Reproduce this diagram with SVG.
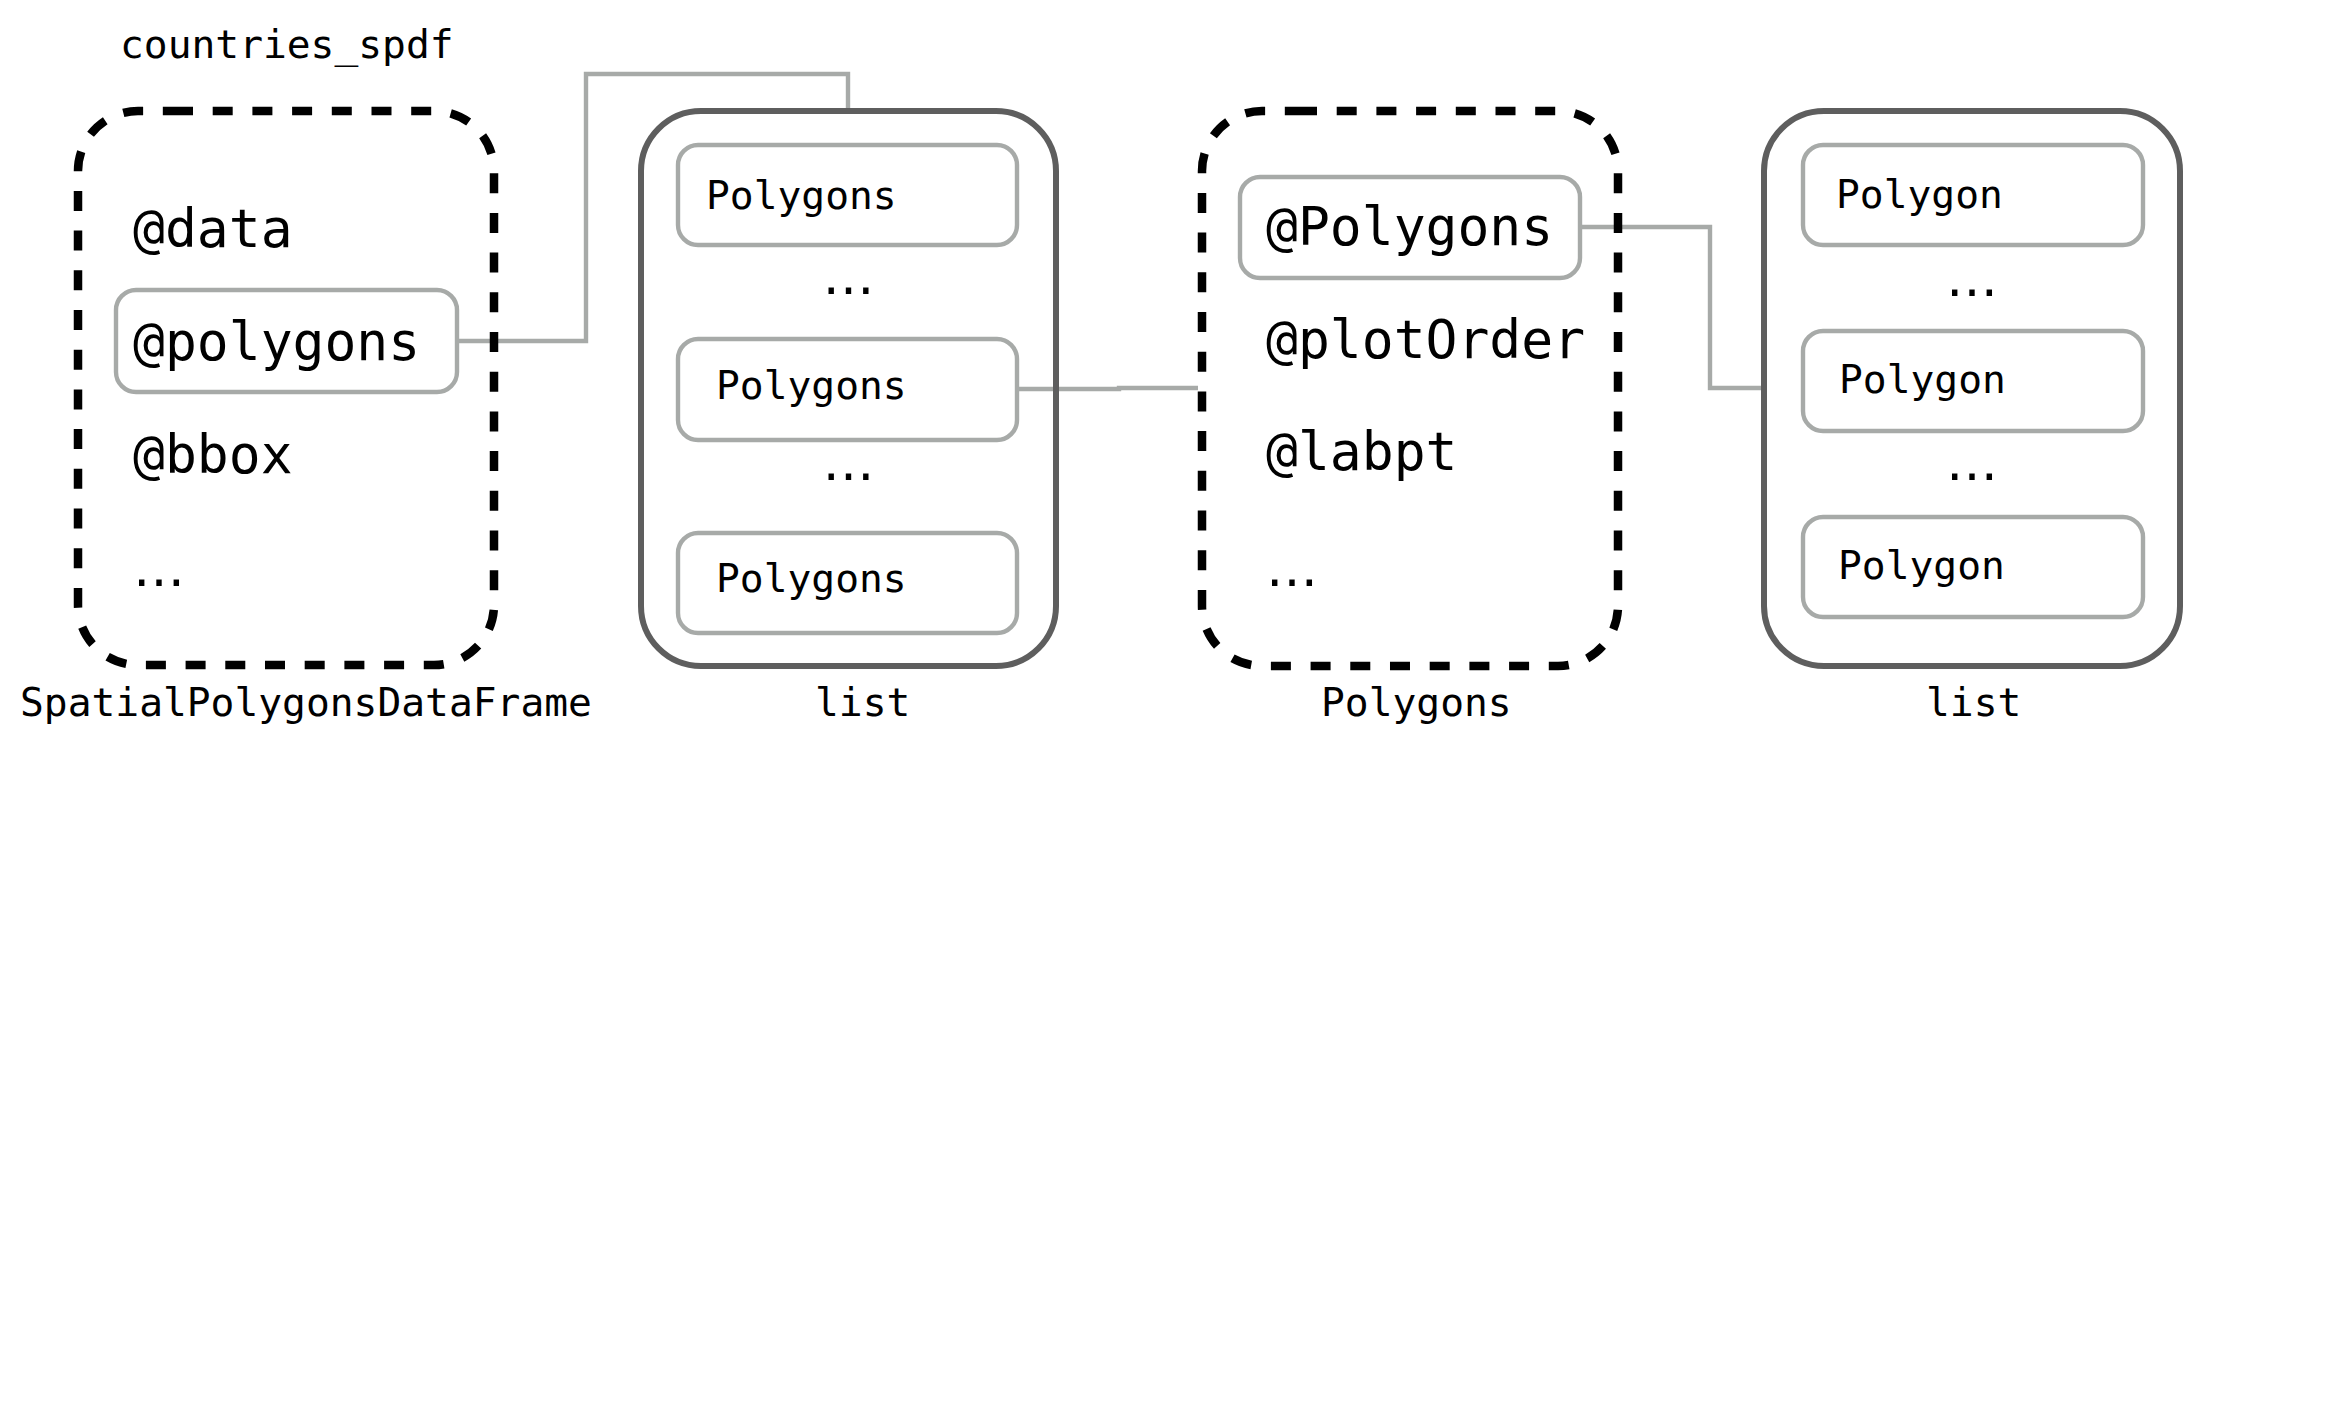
<svg xmlns="http://www.w3.org/2000/svg" width="2344" height="1402" viewBox="0 0 2344 1402">
<style>
.mono{font-family:"DejaVu Sans Mono","Liberation Mono",monospace;fill:#000}
.big{font-size:53px}
.small{font-size:39.6px}
.dots{font-family:"DejaVu Sans","Liberation Sans",sans-serif;font-size:52px;fill:#000}
.dash{fill:none;stroke:#000;stroke-width:8.5;stroke-dasharray:20 19.7}
.list{fill:none;stroke:#5e5e5e;stroke-width:6}
.item{fill:#fff;stroke:#a7aaa8;stroke-width:4.4}
.conn{fill:none;stroke:#a7aaa8;stroke-width:4.4}
</style>
<rect width="2344" height="1402" fill="#fff"/>
<g id="connectors">
<path class="conn" d="M457 341 H586 V74 H848 V108"/>
<path class="conn" d="M1017 389 H1119 V388 H1198"/>
<path class="conn" d="M1580 227 H1710 V388 H1762"/>
</g>
<g id="spdf">
<text class="mono small" x="120" y="58">countries_spdf</text>
<path class="dash" d="M173 111 H434 A60 60 0 0 1 494 171 V605 A60 60 0 0 1 434 665 H138 A60 60 0 0 1 78 605 V171 A60 60 0 0 1 138 111 Z"/>
<text class="mono big" x="133" y="247">@data</text>
<rect class="item" x="116" y="290" width="341" height="102" rx="20"/>
<text class="mono big" x="133" y="360">@polygons</text>
<text class="mono big" x="133" y="473">@bbox</text>
<text class="dots" x="133" y="586">…</text>
<text class="mono small" x="20" y="716">SpatialPolygonsDataFrame</text>
</g>
<g id="list1">
<rect class="list" x="641" y="111" width="415" height="555" rx="60"/>
<rect class="item" x="678" y="145" width="339" height="100" rx="20"/>
<text class="mono small" x="706" y="209">Polygons</text>
<text class="dots" x="848.5" y="294" text-anchor="middle">…</text>
<rect class="item" x="678" y="339" width="339" height="101" rx="20"/>
<text class="mono small" x="716" y="399">Polygons</text>
<text class="dots" x="848.5" y="480" text-anchor="middle">…</text>
<rect class="item" x="678" y="533" width="339" height="100" rx="20"/>
<text class="mono small" x="716" y="592">Polygons</text>
<text class="mono small" x="815" y="716">list</text>
</g>
<g id="polygons">
<path class="dash" d="M1297 111 H1558 A60 60 0 0 1 1618 171 V606 A60 60 0 0 1 1558 666 H1262 A60 60 0 0 1 1202 606 V171 A60 60 0 0 1 1262 111 Z"/>
<rect class="item" x="1240" y="177" width="340" height="101" rx="20"/>
<text class="mono big" x="1266" y="245">@Polygons</text>
<text class="mono big" x="1266" y="358">@plotOrder</text>
<text class="mono big" x="1266" y="470">@labpt</text>
<text class="dots" x="1266" y="586">…</text>
<text class="mono small" x="1321" y="716">Polygons</text>
</g>
<g id="list2">
<rect class="list" x="1764" y="111" width="416" height="555" rx="60"/>
<rect class="item" x="1803" y="145" width="340" height="100" rx="20"/>
<text class="mono small" x="1836" y="208">Polygon</text>
<text class="dots" x="1972" y="296" text-anchor="middle">…</text>
<rect class="item" x="1803" y="331" width="340" height="100" rx="20"/>
<text class="mono small" x="1839" y="393">Polygon</text>
<text class="dots" x="1972" y="480" text-anchor="middle">…</text>
<rect class="item" x="1803" y="517" width="340" height="100" rx="20"/>
<text class="mono small" x="1838" y="579">Polygon</text>
<text class="mono small" x="1926" y="716">list</text>
</g>
</svg>
